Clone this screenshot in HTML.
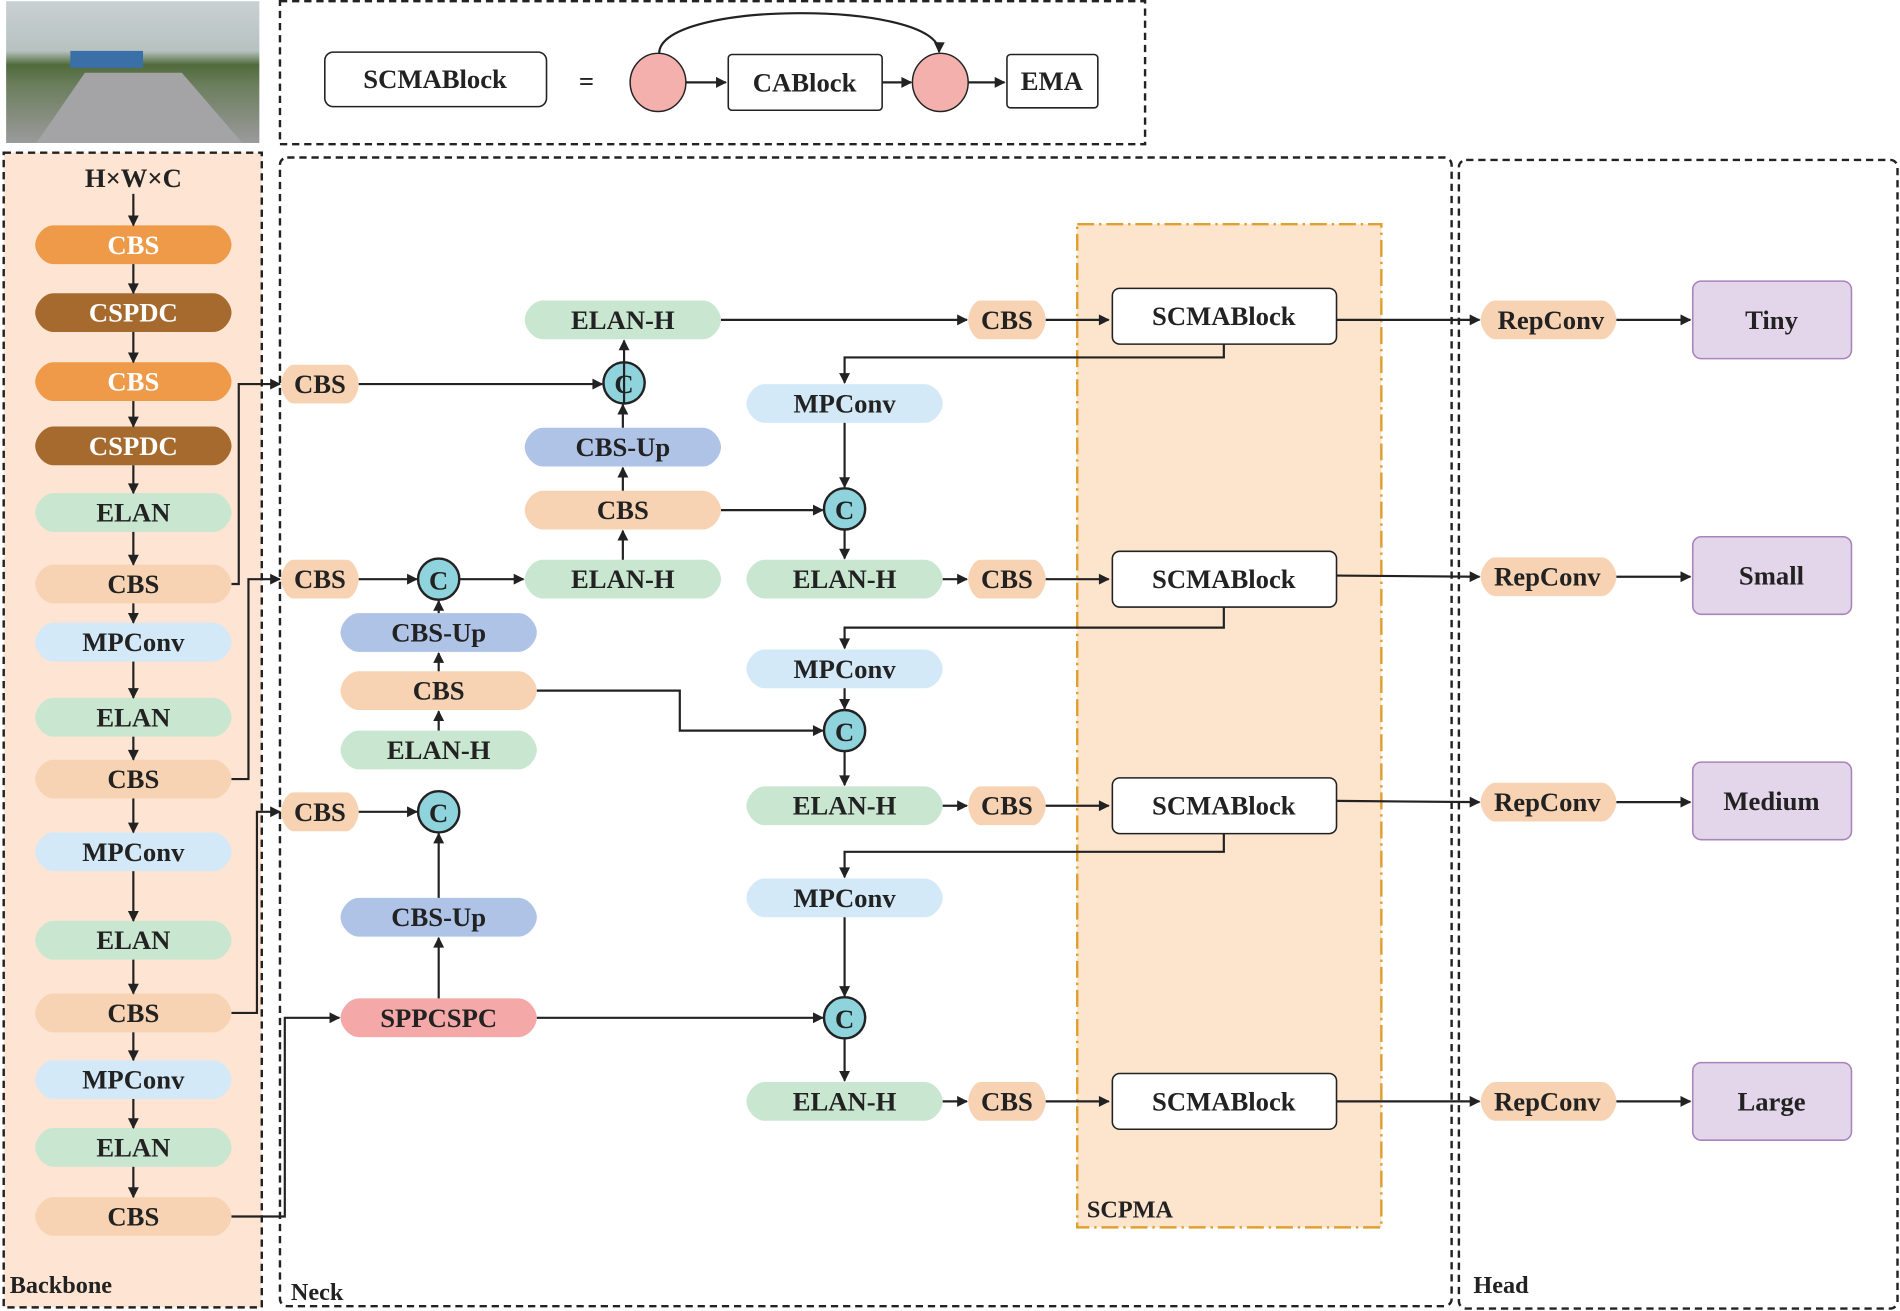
<!DOCTYPE html>
<html><head><meta charset="utf-8"><style>
html,body{margin:0;padding:0;background:#fff}
svg{display:block}
.t{font-family:"Liberation Serif","Times New Roman",serif;font-weight:bold;font-size:22px;text-anchor:middle;dominant-baseline:central;fill:#222}
.w{fill:#fff}
.l{stroke:#222;stroke-width:1.8;fill:none;marker-end:url(#ar)}
.lab{font-family:"Liberation Serif","Times New Roman",serif;font-weight:bold;font-size:20px;fill:#222}
</style></head><body>
<svg width="1900" height="1311" viewBox="0 0 1568 1082" xmlns="http://www.w3.org/2000/svg">
<defs>
<marker id="ar" viewBox="0 0 10 10" refX="9" refY="5" markerWidth="10" markerHeight="9" markerUnits="userSpaceOnUse" orient="auto"><path d="M0,0L10,5L0,10Z" fill="#222"/></marker>
<path id="big" d="M-66,-16L66,-16C74,-16 81,-7 81,0C81,7 74,16 66,16L-66,16C-74,16 -81,7 -81,0C-81,-7 -74,-16 -66,-16Z"/>
<path id="sm" d="M-22,-16L22,-16C27,-16 32,-7 32,0C32,7 27,16 22,16L-22,16C-27,16 -32,7 -32,0C-32,-7 -27,-16 -22,-16Z"/>
<path id="rep" d="M-44,-16L44,-16C50,-16 56,-7 56,0C56,7 50,16 44,16L-44,16C-50,16 -56,7 -56,0C-56,-7 -50,-16 -44,-16Z"/>
<linearGradient id="img" x1="0" y1="0" x2="0" y2="1">
<stop offset="0" stop-color="#c9d0d2"/><stop offset="0.35" stop-color="#b7c2c0"/><stop offset="0.45" stop-color="#4f6a3c"/><stop offset="0.6" stop-color="#6d7f5e"/><stop offset="1" stop-color="#9a9a9c"/></linearGradient>
</defs>

<rect x="5" y="1" width="209" height="117" fill="url(#img)"/>
<polygon points="70,60 150,60 200,118 30,118" fill="#a4a4a6"/>
<rect x="58" y="42" width="60" height="14" fill="#3a6fa8"/>

<rect x="231" y="1" width="714" height="118" fill="none" stroke="#222" stroke-width="2" stroke-dasharray="6,4"/>
<rect x="268" y="43" width="183" height="45" rx="7" fill="#fff" stroke="#222" stroke-width="1.3"/>
<text class="t" x="359" y="65">SCMABlock</text>
<text class="t" x="484" y="67">=</text>
<ellipse cx="543" cy="68" rx="23" ry="24" fill="#f4b0ad" stroke="#222" stroke-width="1.2"/>
<ellipse cx="776" cy="68" rx="23" ry="24" fill="#f4b0ad" stroke="#222" stroke-width="1.2"/>
<rect x="601" y="45" width="127" height="46" rx="3" fill="#fff" stroke="#222" stroke-width="1.3"/>
<text class="t" x="664" y="68">CABlock</text>
<rect x="831" y="45" width="75" height="44" rx="3" fill="#fff" stroke="#222" stroke-width="1.3"/>
<text class="t" x="868" y="67">EMA</text>
<path class="l" d="M566,68L599,68"/>
<path class="l" d="M728,68L752,68"/>
<path class="l" d="M799,68L829,68"/>
<path class="l" d="M544,44C544,0 776,0 775,43"/>

<rect x="3" y="126" width="213" height="953" fill="#fde4d3" stroke="#222" stroke-width="2" stroke-dasharray="6,4"/>
<rect x="231" y="130" width="967" height="948" rx="6" fill="none" stroke="#222" stroke-width="2" stroke-dasharray="6,4"/>
<rect x="1204" y="132" width="362" height="948" rx="6" fill="none" stroke="#222" stroke-width="2" stroke-dasharray="6,4"/>
<rect x="889" y="185" width="251" height="828" fill="#fde4cc" stroke="#e0a030" stroke-width="2" stroke-dasharray="14,4,2,4"/>
<text class="lab" x="8" y="1067">Backbone</text>
<text class="lab" x="240" y="1073">Neck</text>
<text class="lab" x="1216" y="1067">Head</text>
<text class="lab" x="897" y="1005">SCPMA</text>

<text class="t" x="110" y="147">H×W×C</text>
<use href="#big" x="110" y="202" fill="#ee9a48"/><text class="t w" x="110" y="202">CBS</text>
<use href="#big" x="110" y="258" fill="#a66a2e"/><text class="t w" x="110" y="258">CSPDC</text>
<use href="#big" x="110" y="315" fill="#ee9a48"/><text class="t w" x="110" y="315">CBS</text>
<use href="#big" x="110" y="368" fill="#a66a2e"/><text class="t w" x="110" y="368">CSPDC</text>
<use href="#big" x="110" y="423" fill="#c8e6d0"/><text class="t" x="110" y="423">ELAN</text>
<use href="#big" x="110" y="482" fill="#f7d3b3"/><text class="t" x="110" y="482">CBS</text>
<use href="#big" x="110" y="530" fill="#d4e9f7"/><text class="t" x="110" y="530">MPConv</text>
<use href="#big" x="110" y="592" fill="#c8e6d0"/><text class="t" x="110" y="592">ELAN</text>
<use href="#big" x="110" y="643" fill="#f7d3b3"/><text class="t" x="110" y="643">CBS</text>
<use href="#big" x="110" y="703" fill="#d4e9f7"/><text class="t" x="110" y="703">MPConv</text>
<use href="#big" x="110" y="776" fill="#c8e6d0"/><text class="t" x="110" y="776">ELAN</text>
<use href="#big" x="110" y="836" fill="#f7d3b3"/><text class="t" x="110" y="836">CBS</text>
<use href="#big" x="110" y="891" fill="#d4e9f7"/><text class="t" x="110" y="891">MPConv</text>
<use href="#big" x="110" y="947" fill="#c8e6d0"/><text class="t" x="110" y="947">ELAN</text>
<use href="#big" x="110" y="1004" fill="#f7d3b3"/><text class="t" x="110" y="1004">CBS</text>
<path class="l" d="M110,160L110,186"/>
<path class="l" d="M110,218L110,242"/>
<path class="l" d="M110,274L110,299"/>
<path class="l" d="M110,331L110,352"/>
<path class="l" d="M110,384L110,407"/>
<path class="l" d="M110,439L110,466"/>
<path class="l" d="M110,498L110,514"/>
<path class="l" d="M110,546L110,576"/>
<path class="l" d="M110,608L110,627"/>
<path class="l" d="M110,659L110,687"/>
<path class="l" d="M110,719L110,760"/>
<path class="l" d="M110,792L110,820"/>
<path class="l" d="M110,852L110,875"/>
<path class="l" d="M110,907L110,931"/>
<path class="l" d="M110,963L110,988"/>

<path class="l" d="M191,482L197,482L197,317L231,317"/>
<path class="l" d="M191,643L205,643L205,478L231,478"/>
<path class="l" d="M191,836L212,836L212,670L231,670"/>
<path class="l" d="M191,1004L235,1004L235,840L280,840"/>

<use href="#sm" x="264" y="317" fill="#f7d3b3"/><text class="t" x="264" y="317">CBS</text>
<use href="#sm" x="264" y="478" fill="#f7d3b3"/><text class="t" x="264" y="478">CBS</text>
<use href="#sm" x="264" y="670" fill="#f7d3b3"/><text class="t" x="264" y="670">CBS</text>

<use href="#big" x="514" y="264" fill="#c8e6d0"/><text class="t" x="514" y="264">ELAN-H</text>
<use href="#big" x="514" y="369" fill="#aec3e6"/><text class="t" x="514" y="369">CBS-Up</text>
<use href="#big" x="514" y="421" fill="#f7d3b3"/><text class="t" x="514" y="421">CBS</text>
<use href="#big" x="514" y="478" fill="#c8e6d0"/><text class="t" x="514" y="478">ELAN-H</text>

<use href="#big" x="362" y="522" fill="#aec3e6"/><text class="t" x="362" y="522">CBS-Up</text>
<use href="#big" x="362" y="570" fill="#f7d3b3"/><text class="t" x="362" y="570">CBS</text>
<use href="#big" x="362" y="619" fill="#c8e6d0"/><text class="t" x="362" y="619">ELAN-H</text>
<use href="#big" x="362" y="757" fill="#aec3e6"/><text class="t" x="362" y="757">CBS-Up</text>
<use href="#big" x="362" y="840" fill="#f4a9a8"/><text class="t" x="362" y="840">SPPCSPC</text>

<use href="#big" x="697" y="333" fill="#d4e9f7"/><text class="t" x="697" y="333">MPConv</text>
<use href="#big" x="697" y="478" fill="#c8e6d0"/><text class="t" x="697" y="478">ELAN-H</text>
<use href="#big" x="697" y="552" fill="#d4e9f7"/><text class="t" x="697" y="552">MPConv</text>
<use href="#big" x="697" y="665" fill="#c8e6d0"/><text class="t" x="697" y="665">ELAN-H</text>
<use href="#big" x="697" y="741" fill="#d4e9f7"/><text class="t" x="697" y="741">MPConv</text>
<use href="#big" x="697" y="909" fill="#c8e6d0"/><text class="t" x="697" y="909">ELAN-H</text>

<use href="#sm" x="831" y="264" fill="#f7d3b3"/><text class="t" x="831" y="264">CBS</text>
<use href="#sm" x="831" y="478" fill="#f7d3b3"/><text class="t" x="831" y="478">CBS</text>
<use href="#sm" x="831" y="665" fill="#f7d3b3"/><text class="t" x="831" y="665">CBS</text>
<use href="#sm" x="831" y="909" fill="#f7d3b3"/><text class="t" x="831" y="909">CBS</text>

<g fill="#8fd3dc" stroke="#222" stroke-width="2">
<circle cx="515" cy="316" r="17"/><circle cx="362" cy="478" r="17"/><circle cx="362" cy="670" r="17"/>
<circle cx="697" cy="420" r="17"/><circle cx="697" cy="603" r="17"/><circle cx="697" cy="840" r="17"/>
</g>
<text class="t" x="515" y="317">C</text><text class="t" x="362" y="479">C</text><text class="t" x="362" y="671">C</text>
<text class="t" x="697" y="421">C</text><text class="t" x="697" y="604">C</text><text class="t" x="697" y="841">C</text>

<g fill="#fff" stroke="#222" stroke-width="1.3">
<rect x="918" y="238" width="185" height="46" rx="6"/>
<rect x="918" y="455" width="185" height="46" rx="6"/>
<rect x="918" y="642" width="185" height="46" rx="6"/>
<rect x="918" y="886" width="185" height="46" rx="6"/>
</g>
<text class="t" x="1010" y="261">SCMABlock</text>
<text class="t" x="1010" y="478">SCMABlock</text>
<text class="t" x="1010" y="665">SCMABlock</text>
<text class="t" x="1010" y="909">SCMABlock</text>

<use href="#rep" x="1278" y="264" fill="#f7d3b3"/><text class="t" x="1280" y="264">RepConv</text>
<use href="#rep" x="1278" y="476" fill="#f7d3b3"/><text class="t" x="1277" y="476">RepConv</text>
<use href="#rep" x="1278" y="662" fill="#f7d3b3"/><text class="t" x="1277" y="662">RepConv</text>
<use href="#rep" x="1278" y="909" fill="#f7d3b3"/><text class="t" x="1277" y="909">RepConv</text>
<g fill="#e4d6ea" stroke="#a884bc" stroke-width="1.3">
<rect x="1397" y="232" width="131" height="64" rx="7"/>
<rect x="1397" y="443" width="131" height="64" rx="7"/>
<rect x="1397" y="629" width="131" height="64" rx="7"/>
<rect x="1397" y="877" width="131" height="64" rx="7"/>
</g>
<text class="t" x="1462" y="264">Tiny</text>
<text class="t" x="1462" y="475">Small</text>
<text class="t" x="1462" y="661">Medium</text>
<text class="t" x="1462" y="909">Large</text>

<path class="l" d="M296,317L497,317"/>
<path class="l" d="M515,333L515,281"/>
<path class="l" d="M514,353L514,334"/>
<path class="l" d="M514,405L514,386"/>
<path class="l" d="M514,462L514,438"/>
<path class="l" d="M296,478L344,478"/>
<path class="l" d="M379,478L432,478"/>
<path class="l" d="M362,506L362,496"/>
<path class="l" d="M362,554L362,539"/>
<path class="l" d="M362,603L362,587"/>
<path class="l" d="M443,570L561,570L561,603L679,603"/>
<path class="l" d="M296,670L344,670"/>
<path class="l" d="M362,741L362,688"/>
<path class="l" d="M362,824L362,774"/>
<path class="l" d="M443,840L679,840"/>
<path class="l" d="M595,421L679,421"/>
<path class="l" d="M595,264L798,264"/>
<path class="l" d="M863,264L915,264"/>
<path class="l" d="M1010,284L1010,295L697,295L697,316"/>
<path class="l" d="M697,349L697,402"/>
<path class="l" d="M697,437L697,461"/>
<path class="l" d="M778,478L798,478"/>
<path class="l" d="M863,478L915,478"/>
<path class="l" d="M1010,501L1010,518L697,518L697,535"/>
<path class="l" d="M697,568L697,585"/>
<path class="l" d="M697,620L697,648"/>
<path class="l" d="M778,665L798,665"/>
<path class="l" d="M863,665L915,665"/>
<path class="l" d="M1010,688L1010,703L697,703L697,724"/>
<path class="l" d="M697,757L697,822"/>
<path class="l" d="M697,857L697,892"/>
<path class="l" d="M778,909L798,909"/>
<path class="l" d="M863,909L915,909"/>
<path class="l" d="M1103,264L1221,264"/>
<path class="l" d="M1103,475L1221,476"/>
<path class="l" d="M1103,661L1221,662"/>
<path class="l" d="M1103,909L1221,909"/>
<path class="l" d="M1334,264L1395,264"/>
<path class="l" d="M1334,476L1395,476"/>
<path class="l" d="M1334,662L1395,662"/>
<path class="l" d="M1334,909L1395,909"/>
</svg>
</body></html>
